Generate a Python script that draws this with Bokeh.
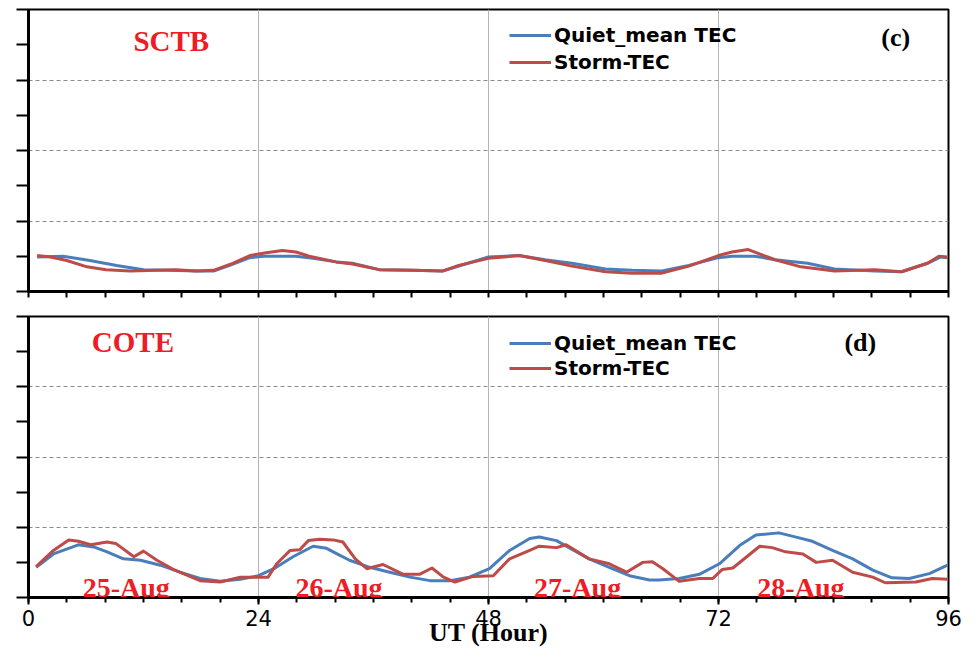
from bokeh.plotting import figure
from bokeh.models import FixedTicker, Label, Legend, LegendItem, Range1d
from bokeh.layouts import column
from bokeh.embed import file_html
from bokeh.resources import INLINE

# ---------------- data (UT hour, TEC) ----------------
sctb_quiet_h = [0.9, 3.6, 6.4, 9.2, 12.0, 14.7, 17.5, 19.3, 21.0, 23.1, 24.5, 27.9, 29.7, 32.1,
                33.8, 36.6, 40.1, 43.2, 45.6, 48.0, 51.2, 53.9, 56.7, 60.2, 63.0, 66.1, 68.9,
                72.0, 73.4, 75.8, 77.9, 81.3, 84.1, 88.3, 91.1, 93.8, 95.2, 95.9]
sctb_quiet_v = [4.9, 5.0, 4.4, 3.7, 3.1, 3.0, 2.9, 2.9, 3.7, 4.8, 5.0, 5.0, 4.7, 4.2,
                4.0, 3.1, 3.0, 2.9, 3.9, 4.9, 5.1, 4.5, 4.0, 3.2, 3.0, 2.9, 3.7,
                4.8, 5.0, 5.0, 4.5, 4.0, 3.2, 2.9, 2.8, 4.0, 4.9, 4.8]

sctb_storm_h = [0.9, 2.3, 4.0, 6.1, 8.1, 10.6, 13.4, 15.4, 17.5, 19.3, 21.3, 23.1, 24.8, 26.5,
                27.9, 29.3, 32.1, 33.8, 36.6, 40.1, 43.2, 44.9, 48.0, 51.2, 54.3, 56.7, 60.2,
                63.0, 66.1, 68.9, 72.0, 73.4, 75.1, 77.9, 80.6, 84.1, 88.3, 91.1, 93.8, 95.0, 95.9]
sctb_storm_v = [5.1, 4.9, 4.4, 3.5, 3.1, 2.9, 3.0, 3.1, 2.9, 3.0, 4.0, 5.1, 5.5, 5.8,
                5.6, 5.0, 4.2, 3.9, 3.1, 3.0, 2.9, 3.7, 4.7, 5.1, 4.3, 3.6, 2.8,
                2.6, 2.6, 3.6, 5.1, 5.6, 5.95, 4.5, 3.5, 2.9, 3.1, 2.8, 4.0, 5.0, 4.9]

cote_quiet_h = [0.8, 2.6, 5.2, 6.8, 8.2, 9.9, 11.7, 13.75, 15.8, 17.9, 20.0, 22.1, 24.0, 25.6,
                27.6, 29.7, 31.1, 32.5, 33.5, 35.6, 37.7, 39.8, 41.9, 44.0, 46.0, 48.1, 50.2,
                52.3, 53.3, 55.1, 56.5, 58.5, 60.6, 62.7, 64.8, 65.8, 67.9, 70.0, 72.1, 74.2,
                75.9, 78.3, 80.1, 81.8, 83.9, 86.0, 88.1, 90.1, 91.9, 94.0, 95.9]
cote_quiet_v = [4.3, 6.2, 7.5, 7.2, 6.5, 5.5, 5.3, 4.6, 3.6, 2.7, 2.3, 2.6, 3.1, 4.1,
                5.8, 7.3, 7.0, 6.0, 5.3, 4.3, 3.6, 2.9, 2.4, 2.4, 2.9, 4.1, 6.7,
                8.4, 8.6, 8.1, 7.0, 5.5, 4.3, 3.1, 2.5, 2.5, 2.7, 3.3, 4.8, 7.4,
                8.9, 9.2, 8.6, 8.0, 6.7, 5.5, 3.9, 2.8, 2.7, 3.4, 4.6]

cote_storm_h = [0.8, 2.6, 4.2, 5.2, 6.5, 8.2, 9.1, 11.0, 12.0, 13.4, 15.1, 17.9, 20.0, 22.1,
                24.2, 25.0, 25.9, 27.3, 28.3, 29.2, 30.4, 31.8, 32.8, 34.1, 35.3, 37.0, 39.1,
                40.8, 42.1, 43.3, 44.5, 46.4, 48.5, 50.2, 52.3, 53.3, 55.1, 56.1, 58.5, 60.6,
                62.4, 64.1, 65.1, 66.2, 67.9, 70.0, 71.4, 72.4, 73.5, 76.3, 77.6, 79.0, 80.8,
                82.2, 83.9, 86.0, 88.1, 89.4, 92.6, 94.3, 95.9]
cote_storm_v = [4.4, 6.7, 8.2, 8.0, 7.5, 7.9, 7.7, 5.8, 6.6, 5.3, 4.0, 2.4, 2.2, 2.9,
                2.9, 2.9, 4.8, 6.7, 6.8, 8.1, 8.3, 8.2, 7.9, 5.5, 4.1, 4.7, 3.3,
                3.3, 4.2, 2.9, 2.2, 3.0, 3.1, 5.5, 6.7, 7.3, 7.1, 7.5, 5.5, 4.8,
                3.6, 5.0, 5.1, 4.1, 2.3, 2.7, 2.7, 4.0, 4.2, 7.3, 7.1, 6.5, 6.2,
                5.0, 5.3, 3.6, 2.9, 2.1, 2.2, 2.7, 2.6]

x_major_ticks = [0, 24, 48, 72, 96]
x_minor_ticks = list(range(0, 97, 4))
y_ticks = list(range(0, 41, 5))
y_grid = [10, 20, 30]
x_grid = [24, 48, 72]

date_labels = ["25-Aug", "26-Aug", "27-Aug", "28-Aug"]
date_label_x = [10.2, 32.4, 57.3, 80.6]
x_title = "UT (Hour)"

BLUE = "#4a7ebb"
RED = "#be4b48"
LABEL_RED = "#ee1c24"
W = 966


def make_panel(height, mb_left, mb_right, mb_top, mb_bottom, show_labels):
    p = figure(width=W, height=height, output_backend="svg", toolbar_location=None,
               x_range=Range1d(0, 96), y_range=Range1d(0, 40),
               min_border_left=mb_left, min_border_right=mb_right,
               min_border_top=mb_top, min_border_bottom=mb_bottom)
    p.background_fill_color = "white"
    p.border_fill_color = "white"
    p.outline_line_color = "black"
    p.outline_line_width = 2

    xa = p.xaxis[0]
    xa.axis_line_width = 3
    xa.axis_line_color = "black"
    xa.major_tick_in = 0
    xa.minor_tick_in = 0
    xa.major_tick_line_width = 2
    xa.minor_tick_line_width = 2
    xa.major_tick_line_color = "black"
    xa.minor_tick_line_color = "black"
    xa.minor_tick_out = 5
    if show_labels:
        xa.ticker = FixedTicker(ticks=x_major_ticks, minor_ticks=x_minor_ticks)
        xa.major_tick_out = 7
        xa.major_label_text_font = "DejaVu Sans"
        xa.major_label_text_font_size = "21px"
        xa.major_label_text_color = "black"
        xa.major_label_standoff = 5
        xa.axis_label = x_title
        xa.axis_label_text_font = "Liberation Serif"
        xa.axis_label_text_font_style = "bold"
        xa.axis_label_text_font_size = "26px"
        xa.axis_label_text_color = "black"
        xa.axis_label_standoff = -11
    else:
        # ticks only, no labels
        xa.ticker = FixedTicker(ticks=[], minor_ticks=x_minor_ticks)
        xa.minor_tick_out = 6

    ya = p.yaxis[0]
    ya.ticker = FixedTicker(ticks=[], minor_ticks=y_ticks)
    ya.axis_line_width = 3
    ya.axis_line_color = "black"
    ya.minor_tick_out = 12
    ya.minor_tick_in = 0
    ya.minor_tick_line_width = 2
    ya.minor_tick_line_color = "black"

    p.xgrid.ticker = FixedTicker(ticks=x_grid)
    p.xgrid.grid_line_color = "#b5b5b5"
    p.xgrid.grid_line_width = 1
    p.ygrid.ticker = FixedTicker(ticks=y_grid)
    p.ygrid.grid_line_color = "#8c8c8c"
    p.ygrid.grid_line_width = 1
    p.ygrid.grid_line_dash = "4 3"
    return p


def add_legend(p, r_q, r_s, loc, spacing):
    leg = Legend(items=[LegendItem(label="Quiet_mean TEC", renderers=[r_q]),
                        LegendItem(label="Storm-TEC", renderers=[r_s])],
                 location=loc)
    leg.background_fill_alpha = 0
    leg.border_line_alpha = 0
    leg.padding = 0
    leg.margin = 0
    leg.spacing = spacing
    leg.glyph_width = 42
    leg.glyph_height = 20
    leg.label_height = 20
    leg.label_standoff = 3
    leg.label_text_font = "DejaVu Sans"
    leg.label_text_font_style = "bold"
    leg.label_text_font_size = "20px"
    leg.label_text_color = "black"
    p.add_layout(leg)


def add_text(p, x, y, text, size, color):
    p.add_layout(Label(x=x, y=y, text=text, text_align="center", text_baseline="alphabetic",
                       text_font="Liberation Serif", text_font_style="bold",
                       text_font_size=size, text_color=color))


# ---------------- top panel: SCTB ----------------
p1 = make_panel(300, 25, 18, 9, 9, False)
rq1 = p1.line(sctb_quiet_h, sctb_quiet_v, line_color=BLUE, line_width=3, line_join="round")
rs1 = p1.line(sctb_storm_h, sctb_storm_v, line_color=RED, line_width=3, line_join="round")
add_legend(p1, rq1, rs1, (481, 217), 3)
add_text(p1, 14.9, 35.6, "SCTB", "29px", LABEL_RED)
add_text(p1, 90.5, 36.0, "(c)", "26px", "black")

# ---------------- bottom panel: COTE ----------------
p2 = make_panel(350, 28, 16, 16, 53, True)
rq2 = p2.line(cote_quiet_h, cote_quiet_v, line_color=BLUE, line_width=3, line_join="round")
rs2 = p2.line(cote_storm_h, cote_storm_v, line_color=RED, line_width=3, line_join="round")
add_legend(p2, rq2, rs2, (481, 217), 1)
add_text(p2, 10.9, 36.3, "COTE", "29px", LABEL_RED)
add_text(p2, 86.8, 36.3, "(d)", "26px", "black")
for lab, lx in zip(date_labels, date_label_x):
    add_text(p2, lx, 1.4, lab, "28px", LABEL_RED)

layout = column(p1, p2, spacing=0)
open("out.html", "w").write(file_html(layout, INLINE))
